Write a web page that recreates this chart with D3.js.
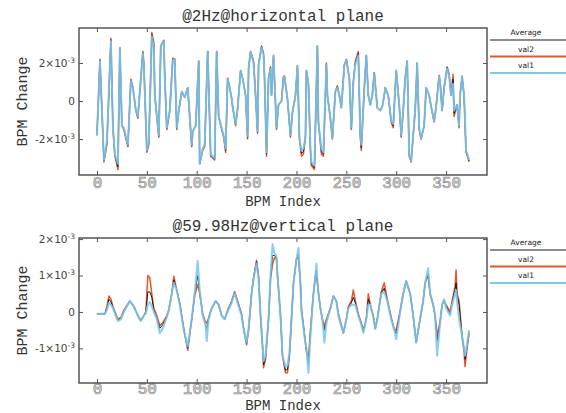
<!DOCTYPE html>
<html lang="en">
<head>
<meta charset="UTF-8">
<title>BPM change</title>
<script src="https://cdn.jsdelivr.net/npm/d3@7/dist/d3.min.js"></script>
<style>
  body { margin: 0; background: #fff; }
  svg { display: block; }
</style>
</head>
<body>
<script>
// values in units of 1e-3
var xTicks = [0, 50, 100, 150, 200, 250, 300, 350];
var legendLabels = ["Average", "val2", "val1"];

// @2Hz horizontal plane
var hIndex = [0,3,5,7,10,14,16,18,21,23, 25,27,30,31,34,36,39,41,46,47,
  50,52,55,57,58,62,64,67,68,70, 73,76,78,80,82,85,88,91,95,96,
  99,102,103,106,108,111,114,116,118,120, 122,125,127,129,131,133,135,136,139,141,
  144,146,149,151,152,154,157,159,161,162, 165,167,168,170,172,174,175,177,180,182,
  185,187,188,191,194,196,199,201,203,205, 207,209,210,212,214,215,218,221,222,225,
  227,230,231,234,236,239,241,243,245,248, 250,253,255,257,259,262,264,265,268,270,
  272,274,276,278,281,284,286,288,289,292, 295,297,298,300,303,305,307,309,311,313,
  315,317,319,321,323,325,328,330,333,335, 338,340,343,344,346,348,351,353,355,357,
  358,361,363,364,366,368,370,372,373];
var hVal1 = [-1.8,2.1,-0.5,-3.1,-2.1,3.15,-1.4,-2.8,-3.3,2.8, -1.3,-1.4,-2.1,-2.3,1.05,0.7,-0.5,-0.8,2.5,1.9,
  -2.6,-2.1,3.4,2.8,0.3,-1.8,2.9,3.15,1.2,-1.4, -0.5,2.15,2.2,-1.4,-0.5,0.5,0.2,0.7,-2.3,-1.6,
  -1.3,2.1,-3.3,-2.5,-2.3,2.6,-2.8,-2.9,-3.0,2.6, -0.8,-1.4,-1.8,-2.5,1.2,0.7,0.15,-0.3,-1.2,-0.4,
  1.6,1.2,0.3,-1.85,1.7,2.6,2.0,0.3,-1.6,1.9, 2.8,2.4,1.2,-2.7,1.2,1.7,0.3,2.4,-1.4,-0.2,
  0.0,1.2,1.3,0.1,-1.8,-0.6,0.3,1.85,-1.95,-2.6, -2.5,-1.9,1.6,0.9,-2.5,-3.2,-3.4,2.9,-1.1,-2.5,
  -2.7,1.9,0.3,-0.9,-1.95,0.5,0.7,0.3,-0.35,1.9, 2.15,1.2,-1.4,1.0,1.9,2.4,-1.8,-2.3,0.7,2.4,
  0.3,-0.2,0.3,1.45,-0.35,-0.5,-0.3,0.3,0.7,0.3, -1.05,-1.2,-0.3,1.6,-0.2,-1.8,-0.5,1.2,2.1,-2.8,
  -3.15,-1.8,-0.5,2.0,-1.4,-1.95,-1.3,0.7,0.3,-0.3, -1.05,-0.3,1.3,1.0,-0.5,0.7,1.7,1.35,0.3,0.9,
  -0.5,-0.2,-1.3,0.3,1.3,0.3,-2.6,-2.9,-3.1];
var hVal2 = [-1.8,2.2,-0.5,-3.2,-2.3,3.3,-1.4,-2.9,-3.6,2.8, -1.3,-1.5,-2.2,-2.4,1.15,0.75,-0.5,-0.9,2.6,2.0,
  -2.7,-2.3,3.6,3.1,0.3,-1.9,2.9,3.2,1.2,-1.5, -0.5,2.25,2.2,-1.5,-0.5,0.5,0.2,0.7,-2.4,-1.6,
  -1.3,2.1,-3.3,-2.6,-2.4,2.6,-2.9,-3.0,-3.1,2.6, -0.8,-1.5,-1.9,-2.7,1.2,0.7,0.15,-0.3,-1.3,-0.4,
  1.6,1.2,0.3,-2.0,1.7,2.6,2.1,0.3,-1.7,1.9, 2.9,2.5,1.2,-2.9,1.2,1.8,0.3,2.4,-1.5,-0.2,
  0.0,1.3,1.3,0.1,-1.9,-0.6,0.3,1.85,-2.0,-2.9, -2.8,-1.9,1.6,0.9,-2.6,-3.4,-3.6,2.9,-1.1,-2.8,
  -2.9,2.0,0.3,-0.9,-2.0,0.5,0.8,0.3,-0.35,1.9, 2.2,1.2,-1.5,1.0,2.1,2.6,-1.9,-2.6,0.7,2.4,
  0.3,-0.2,0.3,1.5,-0.35,-0.5,-0.3,0.3,0.7,0.3, -1.1,-1.4,-0.3,1.6,-0.2,-1.9,-0.5,1.2,2.1,-2.9,
  -3.2,-1.8,-0.5,2.0,-1.5,-2.0,-1.3,0.7,0.3,-0.3, -1.1,-0.3,1.35,1.0,-0.5,0.7,1.8,1.45,0.3,1.4,
  -0.8,-0.2,-1.4,0.3,1.3,0.3,-2.7,-3.0,-3.2];
var hAvg = [-1.8,2.15,-0.5,-3.15,-2.2,3.22,-1.4,-2.85,-3.45,2.8, -1.3,-1.45,-2.15,-2.35,1.1,0.72,-0.5,-0.85,2.55,1.95,
  -2.65,-2.2,3.5,2.95,0.3,-1.85,2.9,3.18,1.2,-1.45, -0.5,2.2,2.2,-1.45,-0.5,0.5,0.2,0.7,-2.35,-1.6,
  -1.3,2.1,-3.3,-2.55,-2.35,2.6,-2.85,-2.95,-3.05,2.6, -0.8,-1.45,-1.85,-2.6,1.2,0.7,0.15,-0.3,-1.25,-0.4,
  1.6,1.2,0.3,-1.92,1.7,2.6,2.05,0.3,-1.65,1.9, 2.85,2.45,1.2,-2.8,1.2,1.75,0.3,2.4,-1.45,-0.2,
  0.0,1.25,1.3,0.1,-1.85,-0.6,0.3,1.85,-1.98,-2.75, -2.65,-1.9,1.6,0.9,-2.55,-3.3,-3.5,2.9,-1.1,-2.65,
  -2.8,1.95,0.3,-0.9,-1.98,0.5,0.75,0.3,-0.35,1.9, 2.18,1.2,-1.45,1.0,2.0,2.5,-1.85,-2.45,0.7,2.4,
  0.3,-0.2,0.3,1.48,-0.35,-0.5,-0.3,0.3,0.7,0.3, -1.08,-1.3,-0.3,1.6,-0.2,-1.85,-0.5,1.2,2.1,-2.85,
  -3.18,-1.8,-0.5,2.0,-1.45,-1.98,-1.3,0.7,0.3,-0.3, -1.08,-0.3,1.32,1.0,-0.5,0.7,1.75,1.4,0.3,1.15,
  -0.65,-0.2,-1.35,0.3,1.3,0.3,-2.65,-2.95,-3.15];
var hYTicks = [-2, 0, 2];

// @59.98Hz vertical plane
var vIndex = [0,8,10,12,14,16,21,24,27,33, 37,42,44,47,49,51,53,55,57,60,
  63,66,70,72,75,77,80,83,87,91, 95,98,101,103,106,109,110,112,115,119,
  122,125,128,131,135,138,141,145,147,150, 152,155,157,160,162,164,166,167,169,172,
  174,176,178,180,181,184,186,189,191,193, 195,197,200,202,204,205,208,210,212,214,
  217,219,220,222,224,226,228,230,234,237, 240,242,244,247,250,252,255,257,259,262,
  265,267,270,272,274,277,279,281,285,288, 291,295,298,300,304,307,310,314,317,320,
  323,327,329,332,334,337,339,341,344,346, 348,350,354,356,359,360,361,363,366,368,
  369,371,373];
var vVal1 = [-0.05,-0.05,0.05,0.25,0.2,0.1,-0.25,-0.2,0.0,0.3, 0.15,-0.17,-0.25,-0.1,-0.05,0.2,0.27,0.15,0.0,-0.2,
  -0.58,-0.45,-0.15,0.05,0.5,0.8,0.6,0.2,-0.5,-0.95, -0.2,0.52,1.4,0.6,-0.1,-0.38,-0.8,-0.2,0.1,0.3,
  0.2,-0.1,-0.2,0.0,0.25,0.52,0.25,-0.1,-0.47,-0.84, -0.45,0.5,0.9,1.33,0.9,-0.1,-0.93,-1.35,-1.2,-0.2,
  1.0,1.86,1.6,1.53,1.0,-0.1,-1.2,-1.5,-1.48,-1.1, -0.2,0.8,1.45,1.76,0.7,0.0,-0.66,-1.0,-1.67,-0.66,
  0.5,1.0,1.33,0.5,0.1,-0.2,-0.84,-0.3,0.1,0.44, 0.3,-0.1,-0.3,-0.58,-0.2,0.1,0.2,0.2,0.2,-0.1,
  -0.35,-0.58,-0.2,0.2,0.2,-0.15,-0.47,-0.2,0.5,0.55, 0.3,-0.2,-0.5,-0.75,0.0,0.5,0.85,0.5,-0.1,-0.84,
  -0.35,0.3,0.8,1.2,0.5,0.2,-0.1,-1.2,-0.3,0.2, 0.35,0.1,-0.1,0.2,0.5,0.6,0.3,-0.2,-0.66,-1.0,
  -1.2,-0.9,-0.5];
var vVal2 = [-0.05,-0.05,0.15,0.44,0.35,0.15,-0.2,-0.15,0.05,0.3, 0.15,-0.15,-0.22,-0.1,0.0,1.0,0.93,0.5,0.1,-0.1,
  -0.38,-0.3,-0.1,0.05,0.5,0.98,0.6,0.25,-0.45,-1.05, -0.2,0.45,0.76,0.5,-0.05,-0.3,-0.3,-0.15,0.1,0.3,
  0.2,-0.1,-0.2,0.05,0.3,0.56,0.3,-0.05,-0.45,-0.9, -0.5,0.5,0.95,1.42,1.0,-0.1,-0.95,-1.53,-1.3,-0.2,
  0.9,1.3,1.5,1.45,1.0,-0.1,-1.2,-1.67,-1.67,-1.2, -0.2,0.8,1.45,1.5,0.8,0.1,-0.6,-1.1,-1.3,-0.5,
  0.5,1.0,1.0,0.55,0.1,-0.2,-0.4,-0.2,0.1,0.44, 0.3,-0.05,-0.25,-0.58,-0.2,0.15,0.3,0.6,0.3,-0.05,
  -0.3,-0.5,-0.2,0.5,0.2,-0.1,-0.45,-0.2,0.55,0.8, 0.35,-0.15,-0.47,-0.5,0.05,0.5,0.85,0.5,-0.1,-0.84,
  -0.35,0.3,0.8,1.0,0.5,0.2,-0.1,-0.66,-0.25,0.2, 0.3,0.2,0.0,0.3,0.7,1.15,0.5,0.3,-0.66,-1.1,
  -1.5,-1.0,-0.6];
var vAvg = [-0.05,-0.05,0.1,0.35,0.28,0.12,-0.22,-0.18,0.02,0.3, 0.15,-0.16,-0.24,-0.1,-0.02,0.55,0.55,0.4,0.05,-0.15,
  -0.45,-0.35,-0.12,0.05,0.5,0.88,0.6,0.22,-0.48,-1.0, -0.2,0.5,1.0,0.55,-0.08,-0.35,-0.5,-0.18,0.1,0.3,
  0.2,-0.1,-0.2,0.02,0.28,0.54,0.28,-0.08,-0.46,-0.87, -0.47,0.5,0.92,1.38,0.95,-0.1,-0.94,-1.45,-1.25,-0.2,
  0.95,1.55,1.55,1.5,1.0,-0.1,-1.2,-1.6,-1.58,-1.15, -0.2,0.8,1.45,1.6,0.75,0.05,-0.63,-1.05,-1.45,-0.58,
  0.5,1.0,1.15,0.52,0.1,-0.2,-0.5,-0.25,0.1,0.44, 0.3,-0.08,-0.28,-0.58,-0.2,0.12,0.25,0.4,0.25,-0.08,
  -0.32,-0.54,-0.2,0.35,0.2,-0.12,-0.46,-0.2,0.52,0.65, 0.32,-0.18,-0.48,-0.6,0.02,0.5,0.85,0.5,-0.1,-0.84,
  -0.35,0.3,0.8,1.05,0.5,0.2,-0.1,-0.8,-0.28,0.2, 0.32,0.15,-0.05,0.25,0.62,0.8,0.45,0.2,-0.66,-1.0,
  -1.3,-0.95,-0.55];
var vYTicks = [-1, 0, 1, 2];

var colors = { avg: "#1a1a1a", val2: "#e4562c", val1: "#7cc8ee" };
var mono = "'Liberation Mono', 'DejaVu Sans Mono', monospace";

var width = 566, height = 413;
var svg = d3.select("body").append("svg").attr("width", width).attr("height", height);

var x = d3.scaleLinear().domain([-18, 391]).range([79, 487]);

function drawPanel(p) {
  var y = d3.scaleLinear().domain(p.yDomain).range([p.bottom, p.top]);
  var g = svg.append("g");

  var clipId = "clip" + p.top;
  svg.append("clipPath").attr("id", clipId).append("rect")
    .attr("x", 79).attr("y", p.top).attr("width", 408).attr("height", p.bottom - p.top);

  var line = d3.line()
    .x(function (d) { return x(d[0]); })
    .y(function (d) { return y(d[1]); });

  // red and black underneath, blue on top
  var series = [
    { key: "val2", vals: p.val2, w: 1.5, op: 1 },
    { key: "avg", vals: p.avg, w: 1, op: 1 },
    { key: "val1", vals: p.val1, w: 2, op: 0.9 }
  ];
  var lines = g.append("g").attr("clip-path", "url(#" + clipId + ")");
  series.forEach(function (s) {
    lines.append("path")
      .datum(p.index.map(function (i, k) { return [i, s.vals[k]]; }))
      .attr("d", line)
      .attr("fill", "none")
      .attr("stroke", colors[s.key])
      .attr("stroke-width", s.w)
      .attr("stroke-opacity", s.op)
      .attr("stroke-linejoin", "round");
  });

  // axes, ticks pointing inward
  var xb = g.append("g").attr("transform", "translate(0," + p.bottom + ")")
    .call(d3.axisBottom(x).tickValues(xTicks).tickSize(-4).tickPadding(p.xPad));
  xb.selectAll("text")
    .attr("font-family", mono).attr("font-size", 16)
    .attr("fill", "#e6e6e6").attr("stroke", "#8c8c8c").attr("stroke-width", 0.7);
  g.append("g").attr("transform", "translate(0," + p.top + ")")
    .call(d3.axisTop(x).tickValues(xTicks).tickSize(-4).tickFormat(""));

  var yl = g.append("g").attr("transform", "translate(79,0)")
    .call(d3.axisLeft(y).tickValues(p.yTicks).tickSize(-4).tickPadding(5).tickFormat(""));
  yl.selectAll(".tick text").each(function (d) {
    var t = d3.select(this)
      .attr("font-family", "'DejaVu Sans', sans-serif").attr("font-size", 10.5)
      .attr("fill", "#444").attr("x", -4);
    if (d === 0) { t.text("0"); return; }
    t.append("tspan").text(d + "\u00d710");
    t.append("tspan").attr("dy", -4).attr("font-size", 7.5).text("-3");
  });
  g.append("g").attr("transform", "translate(487,0)")
    .call(d3.axisRight(y).tickValues(p.yTicks).tickSize(-4).tickFormat(""));

  g.selectAll(".domain").remove();
  g.selectAll(".tick line").attr("stroke", "#555");

  g.append("rect")
    .attr("x", 79).attr("y", p.top).attr("width", 408).attr("height", p.bottom - p.top)
    .attr("fill", "none").attr("stroke", "#555").attr("stroke-width", 1.5);

  // titles
  g.append("text").attr("x", 283).attr("y", p.titleY)
    .attr("text-anchor", "middle").attr("font-family", mono).attr("font-size", 16)
    .attr("fill", "#333").text(p.title);
  g.append("text").attr("x", 283).attr("y", p.xLabelY)
    .attr("text-anchor", "middle").attr("font-family", mono).attr("font-size", 14)
    .attr("fill", "#333").text("BPM Index");
  g.append("text")
    .attr("transform", "translate(27," + ((p.top + p.bottom) / 2) + ") rotate(-90)")
    .attr("text-anchor", "middle").attr("font-family", mono).attr("font-size", 15)
    .attr("fill", "#333").text("BPM Change");

  // legend
  var keys = ["avg", "val2", "val1"];
  var lg = g.append("g").attr("transform", "translate(490," + p.legendY + ")");
  legendLabels.forEach(function (name, i) {
    lg.append("text").attr("x", 36).attr("y", i * 16.5)
      .attr("text-anchor", "middle").attr("font-family", "'DejaVu Sans', sans-serif")
      .attr("font-size", 7.5).attr("fill", "#222").text(name);
    lg.append("line").attr("x1", 0).attr("x2", 80)
      .attr("y1", i * 16.5 + 5).attr("y2", i * 16.5 + 5)
      .attr("stroke", colors[keys[i]]).attr("stroke-width", i === 0 ? 1.2 : 1.8);
  });
}

drawPanel({
  top: 28, bottom: 175, yDomain: [-3.89, 3.84], yTicks: hYTicks,
  index: hIndex, val1: hVal1, val2: hVal2, avg: hAvg,
  title: "@2Hz@horizontal plane", titleY: 21, xLabelY: 206, xPad: 2, legendY: 35
});
drawPanel({
  top: 238, bottom: 383, yDomain: [-1.95, 2.03], yTicks: vYTicks,
  index: vIndex, val1: vVal1, val2: vVal2, avg: vAvg,
  title: "@59.98Hz@vertical plane", titleY: 231, xLabelY: 410, xPad: 0, legendY: 245
});
</script>
</body>
</html>
